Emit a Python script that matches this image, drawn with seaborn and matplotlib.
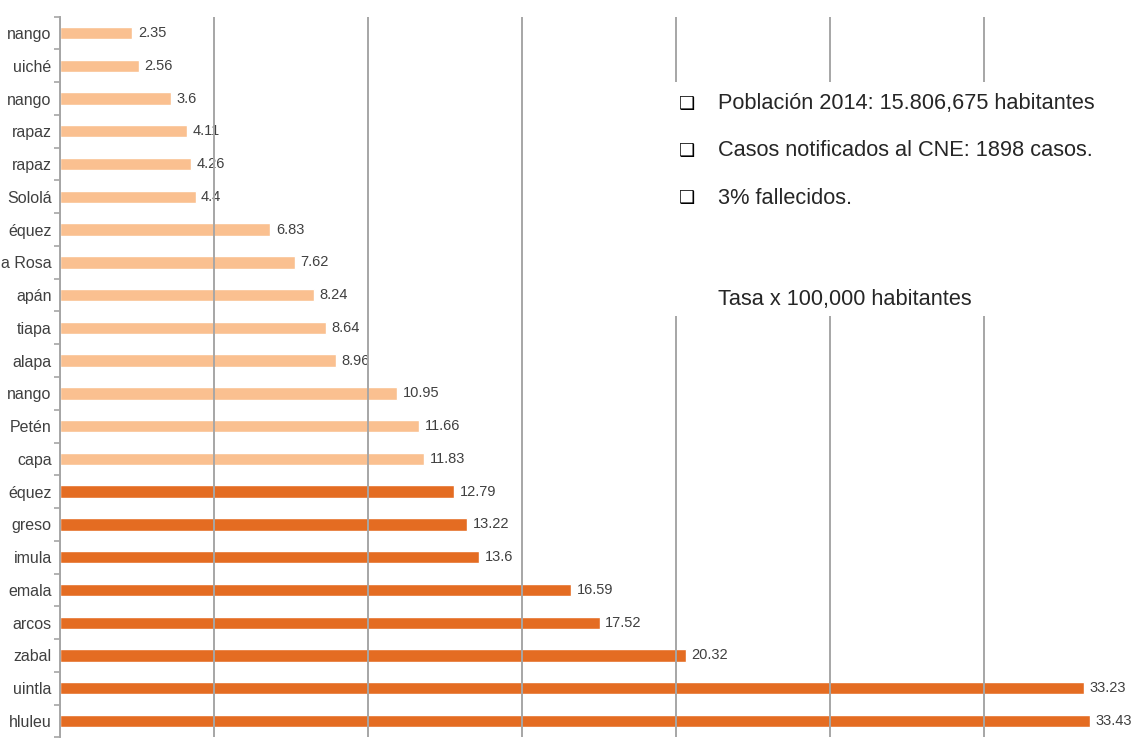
import matplotlib
matplotlib.use("Agg")
import matplotlib.pyplot as plt
import seaborn as sns
import pandas as pd
from matplotlib.patches import Rectangle
from matplotlib.ticker import FixedLocator

departamentos = ["Huehuetenango", "Quiché", "Chimaltenango", "Alta Verapaz", "Baja Verapaz",
                 "Sololá", "Sacatepéquez", "Santa Rosa", "Totonicapán", "Jutiapa", "Jalapa",
                 "Quetzaltenango", "Petén", "Zacapa", "Suchitepéquez", "El Progreso",
                 "Chiquimula", "Guatemala", "San Marcos", "Izabal", "Escuintla", "Retalhuleu"]
# visible (cropped) part of each category label in the reference
etiquetas = ["nango", "uiché", "nango", "rapaz", "rapaz", "Sololá", "équez", "a Rosa",
             "apán", "tiapa", "alapa", "nango", "Petén", "capa", "équez", "greso",
             "imula", "emala", "arcos", "zabal", "uintla", "hluleu"]
tasas = [2.35, 2.56, 3.6, 4.11, 4.26, 4.4, 6.83, 7.62, 8.24, 8.64, 8.96,
         10.95, 11.66, 11.83, 12.79, 13.22, 13.6, 16.59, 17.52, 20.32, 33.23, 33.43]
grupos = ["bajo"] * 14 + ["alto"] * 8
bullets = ["Población 2014: 15.806,675 habitantes",
           "Casos notificados al CNE: 1898 casos.",
           "3% fallecidos."]
subtitulo = "Tasa x 100,000 habitantes"

df = pd.DataFrame({"dep": departamentos, "tasa": tasas, "grupo": grupos})

sns.set_theme(style="white")
plt.rcParams["font.family"] = ["Liberation Sans", "DejaVu Sans"]

W, H = 1132, 738
fig = plt.figure(figsize=(W / 100, H / 100), dpi=100)
ax = fig.add_axes([60 / W, 0.6 / H, 1 - 60 / W, (737.4 - 16.6) / H])

sns.barplot(data=df, x="tasa", y="dep", hue="grupo", orient="h",
            palette={"bajo": "#FAC090", "alto": "#E46C22"}, dodge=False,
            width=0.38, legend=False, ax=ax, saturation=1)

ax.set_xlim(0, 34.8)
ax.set_ylim(21.5, -0.5)
ax.set_xlabel("")
ax.set_ylabel("")
ax.set_yticks(range(len(departamentos)))
ax.set_yticklabels(etiquetas)

for cont in ax.containers:
    ax.bar_label(cont, labels=[f"{v:g}" for v in cont.datavalues], padding=4,
                 fontsize=10.5, color="#404040")

ax.set_xticks([0, 5, 10, 15, 20, 25, 30])
ax.tick_params(axis="x", length=0, labelbottom=False)
ax.grid(axis="x", color="#A6A6A6", linewidth=1.4)
ax.grid(axis="y", visible=False)
ax.xaxis.set_zorder(4)

ax.yaxis.set_minor_locator(FixedLocator([i - 0.5 for i in range(len(departamentos) + 1)]))
ax.tick_params(axis="y", which="major", length=0, pad=6, labelsize=11.5, labelcolor="#404040")
ax.tick_params(axis="y", which="minor", length=4, width=1.2, color="#A6A6A6", left=True)

for s in ["top", "right", "bottom"]:
    ax.spines[s].set_visible(False)
ax.spines["left"].set_color("#A6A6A6")
ax.spines["left"].set_linewidth(1.4)
ax.spines["left"].set_zorder(5)

# white text box covering gridlines
fig.add_artist(Rectangle((660 / W, 1 - 316 / H), 1 - 660 / W, (316 - 82) / H,
                         transform=fig.transFigure, facecolor="white",
                         edgecolor="none", zorder=10))

ys = [104, 151, 198]
for y, t in zip(ys, bullets):
    fig.text(679 / W, 1 - y / H, "❑", fontsize=13, va="center", ha="left",
             color="black", zorder=11, family=["DejaVu Sans"])
    fig.text(718 / W, 1 - y / H, t, fontsize=15.7, va="center", ha="left",
             color="#262626", zorder=11)
fig.text(718 / W, 1 - 300 / H, subtitulo, fontsize=15.7, va="center", ha="left",
         color="#262626", zorder=11)

fig.savefig("out.png", dpi=100)
